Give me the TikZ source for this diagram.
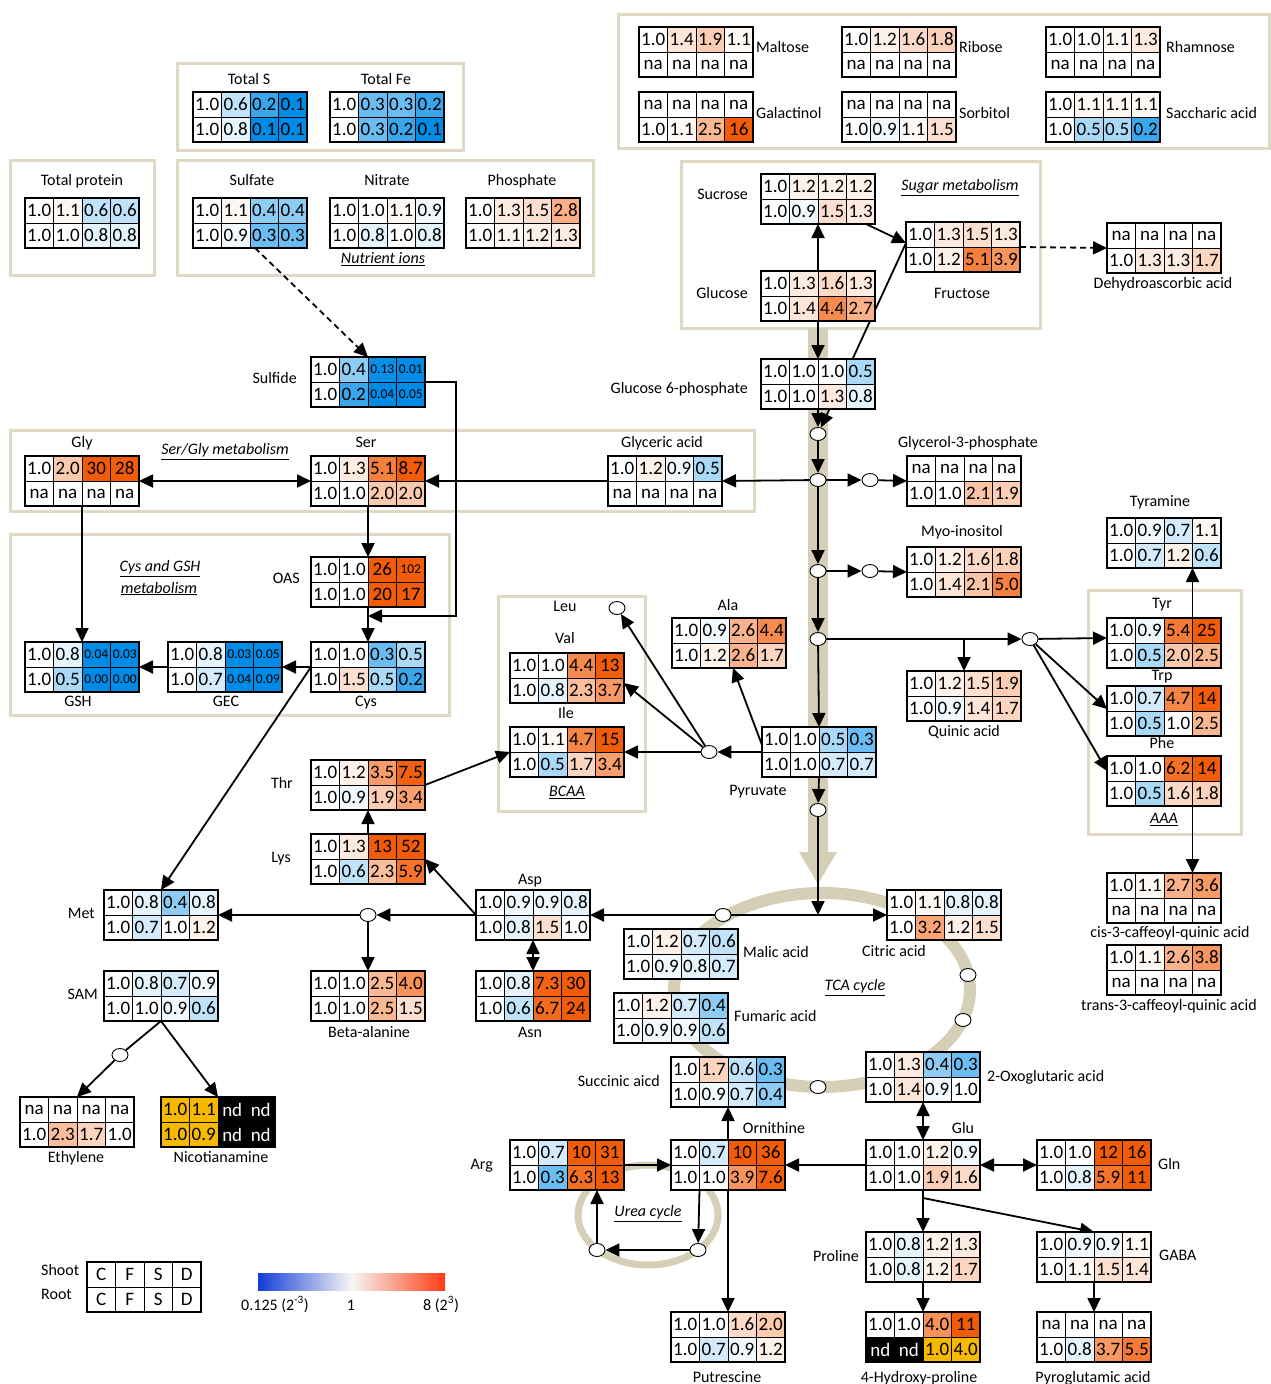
\documentclass[tikz,border=0pt]{standalone}
\usepackage{fontspec}
\setmainfont{Carlito}
\usetikzlibrary{arrows.meta,shapes.geometric,calc}
\pgfdeclarelayer{back}\pgfdeclarelayer{mid}\pgfsetlayers{back,mid,main}
\definecolor{hmblue}{RGB}{0,140,230}
\definecolor{hmorange}{RGB}{242,92,8}
\definecolor{hmyellow}{RGB}{246,185,0}
\definecolor{frm}{RGB}{222,216,197}
\definecolor{band}{RGB}{214,207,184}
\definecolor{gblue}{RGB}{20,60,215}
\definecolor{gred}{RGB}{255,60,20}
\newcommand\cellfont{\fontsize{19}{19}\selectfont}
\newcommand\smallcellfont{\fontsize{13.5}{14}\selectfont}
\tikzset{
  tblnode/.style={rectangle,minimum width=114pt,minimum height=50pt,inner sep=0pt,outer sep=0pt,anchor=north west},
  lab/.style={font=\fontsize{16}{18}\selectfont,inner sep=0pt,text height=0.7em,text depth=0.2em,yshift=-2.5pt},
  ul/.style={font=\fontsize{16}{18}\selectfont\itshape,inner sep=0pt,yshift=-1.5pt},
  junc/.style={ellipse,draw,fill=white,minimum width=16pt,minimum height=13pt,inner sep=0pt,line width=0.9pt},
  frame/.style={draw=frm,line width=3pt},
  ln/.style={line width=1.8pt},
  arr/.style={line width=1.8pt,-{Triangle[length=14pt,width=13pt]}},
  darr/.style={line width=1.8pt,{Triangle[length=14pt,width=13pt]}-{Triangle[length=14pt,width=13pt]}},
  dsh/.style={arr,dash pattern=on 6pt off 4pt}
}
\makeatletter
\def\hm@first#1#2\@nil{#1}
\def\hm@rest#1#2\@nil{#2}
\newcommand\hm@color[1]{%
  \pgfmathsetmacro\hm@l{ln(max(#1,0.001))/ln(2)/3}%
  \pgfmathsetmacro\hm@p{min(100,abs(\hm@l)*100)}%
  \ifdim\hm@l pt<0pt \colorlet{hmc}{hmblue!\hm@p!white}\else\colorlet{hmc}{hmorange!\hm@p!white}\fi}
\newcommand\hmcell[4]{%
  \edef\hm@e{#4}%
  \edef\hm@f{\expandafter\hm@first\hm@e\@nil}%
  \edef\hm@r{\expandafter\hm@rest\hm@e\@nil}%
  \def\hm@font{\cellfont}%
  \def\hm@tc{black}%
  \if n\hm@f
    \if a\hm@r \def\hm@fill{white}\def\hm@txt{na}%
    \else \def\hm@fill{black}\def\hm@txt{nd}\def\hm@tc{white}\fi
  \else\if y\hm@f
    \def\hm@fill{hmyellow}\let\hm@txt\hm@r
  \else\if w\hm@f
    \def\hm@fill{white}\let\hm@txt\hm@r
  \else
    \if s\hm@f \let\hm@txt\hm@r\def\hm@font{\smallcellfont}\else\let\hm@txt\hm@e\fi
    \hm@color{\hm@txt}%
    \def\hm@fill{hmc}%
  \fi\fi\fi
  \filldraw[fill=\hm@fill,draw=black,line width=0.9pt] (#2,#3) rectangle ++(28.5,25);
  \node[text=\hm@tc,font=\hm@font,inner sep=0pt] (#1) at (#2+14.25,#3+12.5) {\hm@txt};
}
\newcommand\hmt[4]{%
  \node[tblnode] (#1) at (#2,#3) {};
  \foreach \hmv [count=\hmi from 0] in {#4}{%
    \pgfmathtruncatemacro\hm@c{mod(\hmi,4)}%
    \pgfmathtruncatemacro\hm@w{floor(\hmi/4)}%
    \hmcell{#1-\hmi}{#2+\hm@c*28.5}{#3+\hm@w*25}{\hmv}%
  }%
  \draw[line width=1.2pt] (#1.north west) rectangle (#1.south east);
}
\makeatother
\begin{document}
\begin{tikzpicture}[x=1pt,y=-1pt]
\useasboundingbox (0,0) rectangle (1271,1384);
\begin{pgfonlayer}{back}
\fill[white] (0,0) rectangle (1271,1384);
\draw[frame] (177,63) rectangle (463,150);
\draw[frame] (10,160) rectangle (154,275);
\draw[frame] (177,160) rectangle (593,275);
\draw[frame] (618,14) rectangle (1269,148);
\draw[frame] (681,161) rectangle (1040,328);
\draw[frame] (10,430) rectangle (754,511);
\draw[frame] (10,534) rectangle (449,715);
\draw[frame] (498,596) rectangle (645,811);
\draw[frame] (1088,590) rectangle (1241,834);
\fill[band] (808,328) rectangle (828,855);
\fill[band] (799,852) -- (837,852) -- (818,884) -- cycle;
\draw[band,line width=12pt] (822,990) ellipse [x radius=148, y radius=97];
\draw[band,line width=7pt] (648,1215) ellipse [x radius=70, y radius=50];
\end{pgfonlayer}

% labels
\node[lab] (LtotS) at (249,79) {Total S};
\node[lab] (LtotFe) at (386,79) {Total Fe};
\node[lab] (Lprot) at (82,180) {Total protein};
\node[lab] (Lsulfate) at (252,180) {Sulfate};
\node[lab] (Lnitrate) at (387,180) {Nitrate};
\node[lab] (Lphos) at (522,180) {Phosphate};
\node[ul] (Lnutr) at (383,258) {\underline{Nutrient ions}};
\node[lab,anchor=west] (Lmalt) at (756,47) {Maltose};
\node[lab,anchor=west] (Lrib) at (959,47) {Ribose};
\node[lab,anchor=west] (Lrham) at (1166,47) {Rhamnose};
\node[lab,anchor=west] (Lgalac) at (756,113) {Galactinol};
\node[lab,anchor=west] (Lsorb) at (959,113) {Sorbitol};
\node[lab,anchor=west] (Lsacch) at (1166,113) {Saccharic acid};
\node[lab,anchor=east] (Lsuc) at (748,194) {Sucrose};
\node[lab,anchor=east] (Lglc) at (748,293) {Glucose};
\node[lab] (Lfru) at (962,293) {Fructose};
\node[ul] (Lsugar) at (960,186) {\underline{Sugar metabolism}};
\node[lab] (Ldha) at (1163,283) {Dehydroascorbic acid};
\node[lab,anchor=east] (Lg6p) at (748,388) {Glucose 6-phosphate};
\node[lab,anchor=east] (Lsulfide) at (297,378) {Sulfide};
\node[lab] (Lgly) at (82,442) {Gly};
\node[lab] (Lser) at (366,442) {Ser};
\node[lab] (Lglyc) at (662,442) {Glyceric acid};
\node[ul] (Lsergly) at (225,450) {\underline{Ser/Gly metabolism}};
\node[lab] (Lg3p) at (968,442) {Glycerol-3-phosphate};
\node[lab,anchor=east] (Loas) at (300,578) {OAS};
\node[ul] (Lcys1) at (160,567) {\underline{Cys and GSH}};
\node[ul] (Lcys2) at (159,587) {\underline{metabolism}};
\node[lab] (Lgsh) at (78,701) {GSH};
\node[lab] (Lgec) at (226,701) {GEC};
\node[lab] (Lcys) at (366,701) {Cys};
\node[lab] (Lmyo) at (962,531) {Myo-inositol};
\node[lab] (Ltyram) at (1160,501) {Tyramine};
\node[lab] (Ltyr) at (1162,603) {Tyr};
\node[lab] (Ltrp) at (1162,675) {Trp};
\node[lab] (Lphe) at (1162,743) {Phe};
\node[ul] (Laaa) at (1164,818) {\underline{AAA}};
\node[lab] (Lquin) at (964,731) {Quinic acid};
\node[lab] (Lala) at (728,605) {Ala};
\node[lab] (Lleu) at (565,606) {Leu};
\node[lab] (Lval) at (565,638) {Val};
\node[lab] (Lile) at (566,713) {Ile};
\node[ul] (Lbcaa) at (567,791) {\underline{BCAA}};
\node[lab] (Lpyr) at (758,790) {Pyruvate};
\node[lab,anchor=east] (Lthr) at (293,783) {Thr};
\node[lab,anchor=east] (Llys) at (291,857) {Lys};
\node[lab] (Lasp) at (530,879) {Asp};
\node[lab,anchor=east] (Lmet) at (95,913) {Met};
\node[lab,anchor=east] (Lsam) at (98,994) {SAM};
\node[lab] (Lbala) at (369,1032) {Beta-alanine};
\node[lab] (Lasn) at (530,1032) {Asn};
\node[lab] (Leth) at (76,1157) {Ethylene};
\node[lab] (Lnic) at (221,1157) {Nicotianamine};
\node[lab,anchor=west] (Lmal) at (743,952) {Malic acid};
\node[lab] (Lcit) at (894,951) {Citric acid};
\node[ul] (Ltca) at (855,986) {\underline{TCA cycle}};
\node[lab,anchor=west] (Lfum) at (734,1016) {Fumaric acid};
\node[lab,anchor=east] (Lsucc) at (660,1081) {Succinic aicd};
\node[lab,anchor=west] (Loxo) at (987,1076) {2-Oxoglutaric acid};
\node[lab] (Lcis) at (1170,932) {cis-3-caffeoyl-quinic acid};
\node[lab] (Ltrans) at (1169,1005) {trans-3-caffeoyl-quinic acid};
\node[lab,anchor=east] (Larg) at (493,1164) {Arg};
\node[lab] (Lorn) at (774,1128) {Ornithine};
\node[lab] (Lglu) at (963,1128) {Glu};
\node[lab,anchor=west] (Lgln) at (1158,1164) {Gln};
\node[ul] (Lurea) at (648,1212) {\underline{Urea cycle}};
\node[lab,anchor=east] (Lpro) at (859,1256) {Proline};
\node[lab,anchor=west] (Lgaba) at (1159,1255) {GABA};
\node[lab] (Lput) at (727,1377) {Putrescine};
\node[lab] (Lhyp) at (919,1377) {4-Hydroxy-proline};
\node[lab] (Lpyro) at (1093,1377) {Pyroglutamic acid};
\node[lab,anchor=west] (Lshoot) at (41,1270) {Shoot};
\node[lab,anchor=west] (Lroot) at (41,1294) {Root};
\node[lab] (Lg1) at (275,1305) {0.125 (2\textsuperscript{-3})};
\node[lab] (Lg2) at (351,1305) {1};
\node[lab] (Lg3) at (441,1305) {8 (2\textsuperscript{3})};
\shade[left color=gblue,right color=gred,middle color=white!93!gray] (258,1273) rectangle (445,1290);

% tables
\hmt{totS}{193}{92}{1.0,0.6,0.2,0.1,1.0,0.8,0.1,0.1}
\hmt{totFe}{330}{92}{1.0,0.3,0.3,0.2,1.0,0.3,0.2,0.1}
\hmt{prot}{25}{198}{1.0,1.1,0.6,0.6,1.0,1.0,0.8,0.8}
\hmt{sulfate}{193}{198}{1.0,1.1,0.4,0.4,1.0,0.9,0.3,0.3}
\hmt{nitrate}{330}{198}{1.0,1.0,1.1,0.9,1.0,0.8,1.0,0.8}
\hmt{phosphate}{466}{198}{1.0,1.3,1.5,2.8,1.0,1.1,1.2,1.3}
\hmt{maltose}{639}{27}{1.0,1.4,1.9,1.1,na,na,na,na}
\hmt{ribose}{842}{27}{1.0,1.2,1.6,1.8,na,na,na,na}
\hmt{rhamnose}{1046}{27}{1.0,1.0,1.1,1.3,na,na,na,na}
\hmt{galactinol}{639}{92}{na,na,na,na,1.0,1.1,2.5,16}
\hmt{sorbitol}{842}{92}{na,na,na,na,1.0,0.9,1.1,1.5}
\hmt{saccharic}{1046}{92}{1.0,1.1,1.1,1.1,1.0,0.5,0.5,0.2}
\hmt{sucrose}{761}{174}{1.0,1.2,1.2,1.2,1.0,0.9,1.5,1.3}
\hmt{fructose}{906}{222}{1.0,1.3,1.5,1.3,1.0,1.2,5.1,3.9}
\hmt{glucose}{761}{271}{1.0,1.3,1.6,1.3,1.0,1.4,4.4,2.7}
\hmt{dha}{1107}{223}{na,na,na,na,1.0,1.3,1.3,1.7}
\hmt{g6p}{761}{359}{1.0,1.0,1.0,0.5,1.0,1.0,1.3,0.8}
\hmt{sulfide}{311}{357}{1.0,0.4,s0.13,s0.01,1.0,0.2,s0.04,s0.05}
\hmt{gly}{25}{456}{1.0,2.0,30,28,na,na,na,na}
\hmt{ser}{311}{456}{1.0,1.3,5.1,8.7,1.0,1.0,2.0,2.0}
\hmt{glyceric}{608}{456}{1.0,1.2,0.9,0.5,na,na,na,na}
\hmt{g3p}{907}{456}{na,na,na,na,1.0,1.0,2.1,1.9}
\hmt{oas}{311}{557}{1.0,1.0,26,s102,1.0,1.0,20,17}
\hmt{gsh}{25}{642}{1.0,0.8,s0.04,s0.03,1.0,0.5,s0.00,s0.00}
\hmt{gec}{168}{642}{1.0,0.8,s0.03,s0.05,1.0,0.7,s0.04,s0.09}
\hmt{cys}{311}{642}{1.0,1.0,0.3,0.5,1.0,1.5,0.5,0.2}
\hmt{myo}{907}{547}{1.0,1.2,1.6,1.8,1.0,1.4,2.1,5.0}
\hmt{tyramine}{1107}{518}{1.0,0.9,0.7,1.1,1.0,0.7,1.2,0.6}
\hmt{tyr}{1107}{618}{1.0,0.9,5.4,25,1.0,0.5,2.0,2.5}
\hmt{trp}{1107}{686}{1.0,0.7,4.7,14,1.0,0.5,1.0,2.5}
\hmt{phe}{1107}{756}{1.0,1.0,6.2,14,1.0,0.5,1.6,1.8}
\hmt{quinic}{907}{671}{1.0,1.2,1.5,1.9,1.0,0.9,1.4,1.7}
\hmt{ala}{672}{618}{1.0,0.9,2.6,4.4,1.0,1.2,2.6,1.7}
\hmt{val}{510}{653}{1.0,1.0,4.4,13,1.0,0.8,2.3,3.7}
\hmt{ile}{510}{727}{1.0,1.1,4.7,15,1.0,0.5,1.7,3.4}
\hmt{pyr}{762}{727}{1.0,1.0,0.5,0.3,1.0,1.0,0.7,0.7}
\hmt{thr}{311}{760}{1.0,1.2,3.5,7.5,1.0,0.9,1.9,3.4}
\hmt{lys}{311}{834}{1.0,1.3,13,52,1.0,0.6,2.3,5.9}
\hmt{asp}{476}{890}{1.0,0.9,0.9,0.8,1.0,0.8,1.5,1.0}
\hmt{met}{104}{890}{1.0,0.8,0.4,0.8,1.0,0.7,1.0,1.2}
\hmt{sam}{104}{971}{1.0,0.8,0.7,0.9,1.0,1.0,0.9,0.6}
\hmt{bala}{311}{971}{1.0,1.0,2.5,4.0,1.0,1.0,2.5,1.5}
\hmt{asn}{476}{971}{1.0,0.8,7.3,30,1.0,0.6,6.7,24}
\hmt{citric}{887}{890}{1.0,1.1,0.8,0.8,1.0,3.2,1.2,1.5}
\hmt{malic}{624}{929}{1.0,1.2,0.7,0.6,1.0,0.9,0.8,0.7}
\hmt{fumaric}{614}{993}{1.0,1.2,0.7,0.4,1.0,0.9,0.9,0.6}
\hmt{succinic}{671}{1057}{1.0,1.7,0.6,0.3,1.0,0.9,0.7,0.4}
\hmt{oxo}{866}{1052}{1.0,1.3,0.4,0.3,1.0,1.4,0.9,1.0}
\hmt{cis}{1107}{873}{1.0,1.1,2.7,3.6,na,na,na,na}
\hmt{trans}{1107}{945}{1.0,1.1,2.6,3.8,na,na,na,na}
\hmt{ethylene}{20}{1097}{na,na,na,na,1.0,2.3,1.7,1.0}
\hmt{nicot}{161}{1097}{y1.0,y1.1,nd,nd,y1.0,y0.9,nd,nd}
\hmt{arg}{510}{1140}{1.0,0.7,10,31,1.0,0.3,6.3,13}
\hmt{orn}{671}{1140}{1.0,0.7,10,36,1.0,1.0,3.9,7.6}
\hmt{glu}{866}{1140}{1.0,1.0,1.2,0.9,1.0,1.0,1.9,1.6}
\hmt{gln}{1037}{1140}{1.0,1.0,12,16,1.0,0.8,5.9,11}
\hmt{proline}{866}{1232}{1.0,0.8,1.2,1.3,1.0,0.8,1.2,1.7}
\hmt{gaba}{1037}{1232}{1.0,0.9,0.9,1.1,1.0,1.1,1.5,1.4}
\hmt{put}{671}{1312}{1.0,1.0,1.6,2.0,1.0,0.7,0.9,1.2}
\hmt{hyp}{866}{1312}{1.0,1.0,4.0,11,nd,nd,y1.0,y4.0}
\hmt{pyroglu}{1037}{1312}{na,na,na,na,1.0,0.8,3.7,5.5}
\hmt{legend}{87}{1262}{wC,wF,wS,wD,wC,wF,wS,wD}

% junctions
\node[junc] (jA) at (818,434) {};
\node[junc] (jB) at (818,480) {};
\node[junc] (jC) at (818,571) {};
\node[junc] (jD) at (818,639) {};
\node[junc] (jE) at (818,810) {};
\node[junc] (jB2) at (870,480) {};
\node[junc] (jC2) at (870,571) {};
\node[junc] (jD2) at (1030,639) {};
\node[junc] (jBC) at (709,752) {};
\node[junc] (jLeu) at (617,608) {};
\node[junc] (jAsp) at (368,915) {};
\node[junc] (jT1) at (723,915) {};
\node[junc] (jT2) at (968,975) {};
\node[junc] (jT3) at (963,1020) {};
\node[junc] (jT4) at (818,1087) {};
\node[junc] (jSAM) at (120,1055) {};
\node[junc] (jU1) at (597,1250) {};
\node[junc] (jU2) at (698,1250) {};
\coordinate (tcaj) at (818,915);
\coordinate (sk) at (456,616);

\begin{pgfonlayer}{mid}
\draw[arr] (glucose.north) -- (sucrose.south);
\draw[arr] (glucose.south) -- (g6p.north);
\draw[arr] ([xshift=-9pt]sucrose.south east) -- ([yshift=4pt]fructose.west);
\draw[arr] ([yshift=4pt]fructose.west) -- (jA);
\draw[dsh] (fructose.east) -- (dha.west);
\draw[dsh] ([xshift=5pt]sulfate.south) -- (sulfide.north);
\draw[arr] (g6p.south) -- (jA);
\draw[arr] (jA) -- (jB);
\draw[arr] (jB) -- (jC);
\draw[arr] (jC) -- (jD);
\draw[arr] (jD) -- (pyr.north);
\draw[arr] (pyr.south) -- (jE);
\draw[arr] (jE) -- (tcaj);
\draw[darr] (asp.east) -- (citric.west);
\draw[arr] (jB) -- (glyceric.east);
\draw[arr] (glyceric.west) -- (ser.east);
\draw[darr] (gly.east) -- (ser.west);
\draw[arr] (jB) -- (jB2);
\draw[arr] (jB2) -- (g3p.west);
\draw[arr] (jC) -- (jC2);
\draw[arr] (jC2) -- (myo.west);
\draw[arr] (jD) -- (jD2);
\draw[arr] (jD -| quinic.north) -- (quinic.north);
\draw[arr] (jD2) -- ([yshift=5pt]tyr.west);
\draw[arr] (jD2) -- ([yshift=2pt]trp.west);
\draw[arr] (jD2) -- ([yshift=10pt]phe.west);
\draw[arr] ([xshift=28.5pt]tyr.north) -- ([xshift=28.5pt]tyramine.south);
\draw[arr] ([xshift=28.5pt]phe.south) -- ([xshift=28.5pt]cis.north);
\draw[arr] (sulfide.east) -| (sk) -- (sk -| oas.south);
\draw[arr] (ser.south) -- (oas.north);
\draw[arr] (oas.south) -- (cys.north);
\draw[arr] (gly.south) -- (gsh.north);
\draw[arr] (cys.west) -- (gec.east);
\draw[arr] (gec.west) -- (gsh.east);
\draw[arr] (cys.west) -- (met.north);
\draw[arr] (pyr.west) -- (jBC);
\draw[arr] (jBC) -- (ile.east);
\draw[arr] (jBC) -- ([yshift=-5pt]val.east);
\draw[arr] (jBC) -- (jLeu);
\draw[arr] ([yshift=7pt]pyr.west) -- ([xshift=4pt]ala.south);
\draw[arr] (thr.east) -- (ile.west);
\draw[arr] (lys.north) -- (thr.south);
\draw[arr] (asp.west) -- (lys.east);
\draw[arr] (asp.west) -- (jAsp);
\draw[arr] (jAsp) -- (met.east);
\draw[arr] (jAsp) -- (bala.north);
\draw[darr] (asp.south) -- (asn.north);
\draw[ln] (sam.south) -- (jSAM);
\draw[arr] (jSAM) -- (ethylene.north);
\draw[arr] (sam.south) -- (nicot.north);
\draw[darr] (oxo.south) -- (glu.north);
\draw[arr] (glu.west) -- (orn.east);
\draw[arr] (arg.east) -- (orn.west);
\draw[darr] (succinic.south) -- (put.north);
\draw[arr] ([xshift=-28.5pt]orn.south) -- (jU2);
\draw[arr] (jU2) -- (jU1);
\draw[arr] (jU1) -- (jU1 |- arg.south);
\draw[darr] (glu.east) -- (gln.west);
\draw[arr] (glu.south) -- (proline.north);
\draw[arr] ([yshift=-8pt]glu.south) -- (gaba.north);
\draw[arr] (proline.south) -- (hyp.north);
\draw[arr] (gaba.south) -- (pyroglu.north);
\end{pgfonlayer}
\end{tikzpicture}
\end{document}
